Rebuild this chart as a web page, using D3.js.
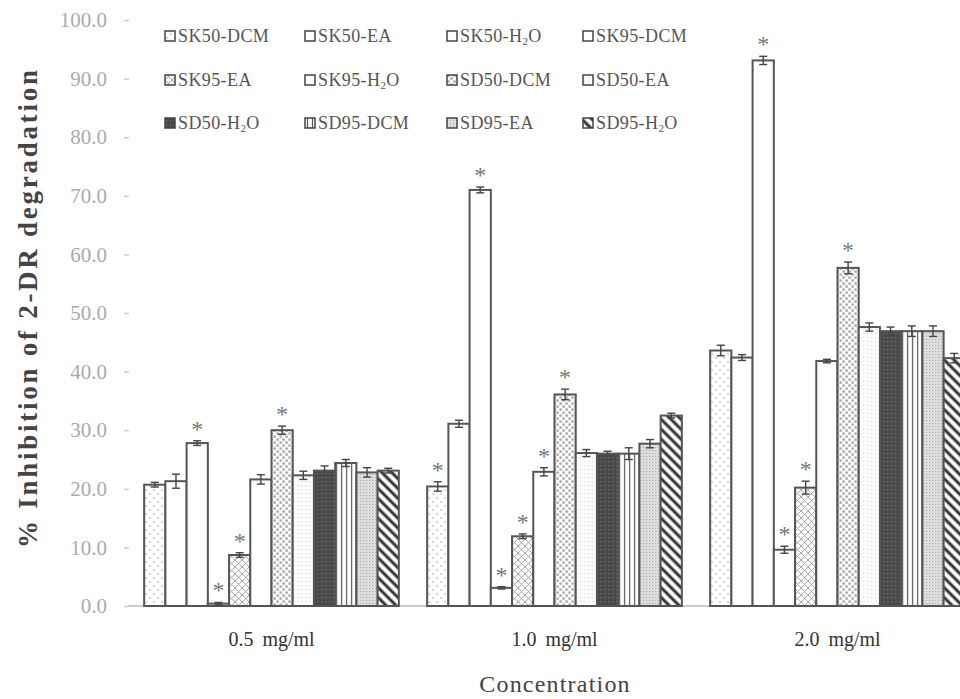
<!DOCTYPE html>
<html>
<head>
<meta charset="utf-8">
<script src="https://cdn.jsdelivr.net/npm/d3@7"></script>
<style>
  body { margin: 0; background: #fff; }
  svg { display: block; }
  svg text { font-family: "Liberation Serif", "Times New Roman", serif; }
</style>
</head>
<body>
<svg id="chart"></svg>
<script>
// data
const concentrations = ["0.5 mg/ml", "1.0 mg/ml", "2.0 mg/ml"];
const seriesNames = ["SK50-DCM", "SK50-EA", "SK50-H2O", "SK95-DCM",
                     "SK95-EA", "SK95-H2O", "SD50-DCM", "SD50-EA",
                     "SD50-H2O", "SD95-DCM", "SD95-EA", "SD95-H2O"];
const values05 = [20.7, 21.3, 27.8, 0.4, 8.7, 21.6, 30.0, 22.3, 23.1, 24.4, 22.8, 23.1];
const values10 = [20.4, 31.1, 71.0, 3.1, 11.9, 22.9, 36.1, 26.1, 26.0, 26.0, 27.7, 32.5];
const values20 = [43.6, 42.4, 93.1, 9.6, 20.2, 41.8, 57.7, 47.6, 46.9, 46.9, 46.9, 42.3];
const errors05 = [0.4, 1.2, 0.4, 0.2, 0.4, 0.8, 0.7, 0.7, 0.8, 0.6, 0.8, 0.4];
const errors10 = [0.8, 0.6, 0.5, 0.2, 0.4, 0.7, 0.9, 0.6, 0.4, 1.0, 0.7, 0.4];
const errors20 = [0.9, 0.5, 0.7, 0.6, 1.1, 0.3, 1.0, 0.7, 0.7, 0.9, 0.9, 0.8];
const starred05 = [2, 3, 4, 6];
const starred10 = [0, 2, 3, 4, 5, 6];
const starred20 = [2, 3, 4, 6];
const yTicks = [0, 10, 20, 30, 40, 50, 60, 70, 80, 90, 100];

const groups = concentrations.map((c, i) => ({
  conc: c,
  values: [values05, values10, values20][i],
  errors: [errors05, errors10, errors20][i],
  stars: [starred05, starred10, starred20][i]
}));

const W = 960, H = 699;
const serif = "Liberation Serif, Times New Roman, serif";
const svg = d3.select("#chart").attr("width", W).attr("height", H);

// fill patterns, one per series
const defs = svg.append("defs");
function pat(id, w, h, bg, build, transform) {
  const p = defs.append("pattern").attr("id", id)
    .attr("patternUnits", "userSpaceOnUse").attr("width", w).attr("height", h);
  if (transform) p.attr("patternTransform", transform);
  p.append("rect").attr("width", w).attr("height", h).attr("fill", bg);
  if (build) build(p);
}
pat("p0", 8, 8, "#fff", p => {
  p.append("circle").attr("cx", 2).attr("cy", 2).attr("r", 0.8).attr("fill", "#999");
  p.append("circle").attr("cx", 6).attr("cy", 6).attr("r", 0.8).attr("fill", "#999");
});
pat("pw", 4, 4, "#fff");
pat("p4", 7, 7, "#fff", p => {
  p.append("path").attr("d", "M0,0L7,7M7,0L0,7").attr("stroke", "#999").attr("stroke-width", 0.9);
});
pat("p6", 6, 6, "#fff", p => {
  p.append("circle").attr("cx", 1.5).attr("cy", 1.5).attr("r", 1.5).attr("fill", "#b0b0b0");
  p.append("circle").attr("cx", 4.5).attr("cy", 4.5).attr("r", 1.5).attr("fill", "#b0b0b0");
});
pat("p7", 4, 4, "#fff", p => {
  p.append("rect").attr("x", 1).attr("y", 1).attr("width", 1).attr("height", 1).attr("fill", "#ccc");
});
pat("p8", 4, 4, "#4a4a4a", p => {
  p.append("rect").attr("x", 1).attr("y", 1).attr("width", 1.2).attr("height", 1.2).attr("fill", "#777");
});
pat("p9", 5, 5, "#fff", p => {
  p.append("line").attr("x1", 2.5).attr("x2", 2.5).attr("y1", 0).attr("y2", 5)
    .attr("stroke", "#555").attr("stroke-width", 1.2);
});
pat("p10", 3, 3, "#ddd", p => {
  p.append("rect").attr("width", 1).attr("height", 1).attr("fill", "#a8a8a8");
});
pat("p11", 7, 7, "#fff", p => {
  p.append("line").attr("x1", 2).attr("x2", 2).attr("y1", 0).attr("y2", 7)
    .attr("stroke", "#333").attr("stroke-width", 3);
}, "rotate(-45)");
const fills = ["url(#p0)", "url(#pw)", "url(#pw)", "url(#pw)", "url(#p4)", "url(#pw)",
               "url(#p6)", "url(#p7)", "url(#p8)", "url(#p9)", "url(#p10)", "url(#p11)"];

// scales
const x0 = d3.scaleBand().domain(concentrations).range([130, 979])
  .paddingInner(0.1).paddingOuter(0.05);
const x1 = d3.scaleBand().domain(seriesNames).range([0, x0.bandwidth()]);
const y = d3.scaleLinear().domain([0, 100]).range([606, 20]);

// y axis
const yAxis = svg.append("g")
  .attr("transform", "translate(129,0)")
  .call(d3.axisLeft(y).tickValues(yTicks).tickFormat(d3.format(".1f"))
    .tickSize(5).tickPadding(17));
yAxis.attr("font-family", serif);
yAxis.select(".domain").remove();
yAxis.selectAll(".tick line").attr("stroke", "#ccc").attr("stroke-width", 1.5);
yAxis.selectAll(".tick text").attr("fill", "#aaa").attr("font-size", 21);

// baseline
svg.append("line").attr("x1", 128).attr("x2", W).attr("y1", y(0)).attr("y2", y(0))
  .attr("stroke", "#bbb").attr("stroke-width", 1.5);

// bars
const g = svg.selectAll(".grp").data(groups).join("g")
  .attr("class", "grp")
  .attr("transform", d => `translate(${x0(d.conc)},0)`);

g.selectAll("rect.bar")
  .data(d => d.values.map((v, i) => ({ v, i, e: d.errors[i] })))
  .join("rect").attr("class", "bar")
  .attr("x", d => x1(seriesNames[d.i]))
  .attr("y", d => y(d.v))
  .attr("width", x1.bandwidth())
  .attr("height", d => y(0) - y(d.v))
  .attr("fill", d => fills[d.i])
  .attr("stroke", "#555").attr("stroke-width", 2);

// error bars
const eb = g.selectAll("g.err")
  .data(d => d.values.map((v, i) => ({ v, i, e: d.errors[i] })))
  .join("g").attr("class", "err")
  .attr("transform", d => `translate(${x1(seriesNames[d.i]) + x1.bandwidth() / 2},0)`)
  .attr("stroke", "#444").attr("stroke-width", 1.4);
eb.append("line").attr("y1", d => y(d.v - d.e)).attr("y2", d => y(d.v + d.e));
eb.append("line").attr("x1", -4).attr("x2", 4).attr("y1", d => y(d.v + d.e)).attr("y2", d => y(d.v + d.e));
eb.append("line").attr("x1", -4).attr("x2", 4).attr("y1", d => y(d.v - d.e)).attr("y2", d => y(d.v - d.e));

// significance asterisks
g.selectAll("text.star")
  .data(d => d.stars.map(i => ({ i, v: d.values[i], e: d.errors[i] })))
  .join("text").attr("class", "star")
  .attr("x", d => x1(seriesNames[d.i]) + x1.bandwidth() / 2)
  .attr("y", d => y(d.v + d.e) - 4)
  .attr("text-anchor", "middle")
  .attr("font-size", 24).attr("fill", "#777")
  .text("*");

// category labels
svg.selectAll("text.cat").data(concentrations).join("text")
  .attr("class", "cat")
  .attr("x", d => x0(d) + x0.bandwidth() / 2)
  .attr("y", 646)
  .attr("text-anchor", "middle")
  .attr("font-size", 20).attr("fill", "#333").attr("word-spacing", 4)
  .text(d => d);

// axis titles
svg.append("text")
  .attr("x", 555).attr("y", 692)
  .attr("text-anchor", "middle")
  .attr("font-size", 24).attr("letter-spacing", 1.2).attr("fill", "#444")
  .text("Concentration");

svg.append("text")
  .attr("transform", "translate(37,309) rotate(-90)")
  .attr("text-anchor", "middle")
  .attr("font-size", 27).attr("font-weight", "bold").attr("fill", "#444")
  .attr("textLength", 478).attr("lengthAdjust", "spacing")
  .text("% Inhibition of 2-DR degradation");

// legend, 4 columns x 3 rows
const legendX = [165, 305, 447, 583];
const legendY = [36, 80, 123];
const leg = svg.selectAll("g.leg").data(seriesNames).join("g")
  .attr("class", "leg")
  .attr("transform", (d, i) => `translate(${legendX[i % 4]},${legendY[Math.floor(i / 4)]})`);
leg.append("rect").attr("x", 0).attr("y", -5).attr("width", 10).attr("height", 10)
  .attr("fill", (d, i) => fills[i]).attr("stroke", "#444").attr("stroke-width", 1.5);
leg.append("text").attr("x", 13).attr("y", 6)
  .attr("font-size", 18).attr("fill", "#555").attr("letter-spacing", 0.4)
  .each(function(d) {
    const t = d3.select(this);
    if (d.endsWith("H2O")) {
      t.append("tspan").text(d.slice(0, -2));
      t.append("tspan").attr("font-size", 11).attr("dy", 3).text("2");
      t.append("tspan").attr("dy", -3).text("O");
    } else {
      t.text(d);
    }
  });
</script>
</body>
</html>
